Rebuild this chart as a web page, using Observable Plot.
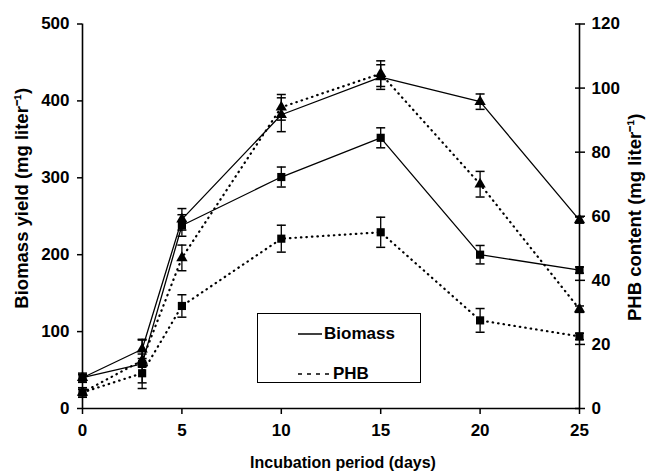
<!DOCTYPE html>
<html><head><meta charset="utf-8">
<script src="https://cdn.jsdelivr.net/npm/d3@7"></script>
<script src="https://cdn.jsdelivr.net/npm/@observablehq/plot@0.6"></script>
<style>
body{margin:0;background:#fff;}
#wrap{position:relative;width:647px;height:474px;font-family:'Liberation Sans',Arial,sans-serif;font-weight:bold;}
#legend{position:absolute;left:257px;top:313px;width:162px;height:68px;border:1.5px solid #000;box-sizing:content-box;}
#legend .row{position:absolute;left:40px;display:flex;align-items:center;font-size:17px;line-height:20px;color:#000;}
#legend svg{display:block;}
</style></head><body><div id="wrap"></div>
<script>
// Days of incubation
const days = [0, 3, 5, 10, 15, 20, 25];
// Biomass yield (mg/L, left axis)
const biomassTri = [40, 77, 246, 382, 431, 399, 245];
const biomassTriErr = [4, 12, 14, 22, 16, 10, 4];
const biomassSq = [40, 58, 238, 301, 352, 200, 180];
const biomassSqErr = [6, 32, 14, 13, 13, 12, 4];
// PHB content (mg/L, right axis)
const phbTri = [5, 15, 47, 94, 104.5, 70, 31];
const phbTriErr = [1, 2, 4, 4, 4, 4, 1];
const phbSq = [5, 11, 32, 53, 55, 27.5, 22.5];
const phbSqErr = [1.5, 3, 3.5, 4.2, 4.7, 3.7, 1];
// Axis ticks
const xTicks = [0, 5, 10, 15, 20, 25];
const leftTicks = [0, 100, 200, 300, 400, 500];
const rightTicks = [0, 20, 40, 60, 80, 100, 120];
const leftMax = 500, rightMax = 120;
const K = leftMax / rightMax;

function rows(vals, errs, scale) {
  return days.map((d, i) => ({day: d, y: vals[i] * scale, lo: (vals[i] - errs[i]) * scale, hi: (vals[i] + errs[i]) * scale}));
}
const bT = rows(biomassTri, biomassTriErr, 1);
const bS = rows(biomassSq, biomassSqErr, 1);
const pT = rows(phbTri, phbTriErr, K);
const pS = rows(phbSq, phbSqErr, K);
const all = [...bT, ...bS, ...pT, ...pS];

const cap = {draw(ctx, size) { const r = Math.sqrt(size / Math.PI); ctx.moveTo(-r, 0); ctx.lineTo(r, 0); }};
const FONT = "'Liberation Sans',Arial,sans-serif";
const dotted = {stroke: "black", strokeWidth: 2.2, strokeDasharray: "0.5,5", strokeLinecap: "round"};
const solid = {stroke: "black", strokeWidth: 1.3};

const chart = Plot.plot({
  width: 647, height: 474,
  marginLeft: 82, marginRight: 68, marginTop: 23.5, marginBottom: 66,
  style: {fontFamily: FONT, fontWeight: "bold", background: "white", color: "black"},
  x: {domain: [0, 25]},
  y: {domain: [0, leftMax]},
  marks: [
    Plot.line(pT, {x: "day", y: "y", ...dotted}),
    Plot.line(pS, {x: "day", y: "y", ...dotted}),
    Plot.line(bT, {x: "day", y: "y", ...solid}),
    Plot.line(bS, {x: "day", y: "y", ...solid}),
    Plot.ruleX(all, {x: "day", y1: "lo", y2: "hi", stroke: "black", strokeWidth: 1.3}),
    Plot.dot(all, {x: "day", y: "lo", symbol: cap, r: 4.5, stroke: "black", strokeWidth: 1.5, fill: "none"}),
    Plot.dot(all, {x: "day", y: "hi", symbol: cap, r: 4.5, stroke: "black", strokeWidth: 1.5, fill: "none"}),
    Plot.dot([...bT, ...pT], {x: "day", y: "y", symbol: "triangle", r: 4.2, fill: "black"}),
    Plot.dot([...bS, ...pS], {x: "day", y: "y", symbol: "square", r: 4.6, fill: "black"}),
    Plot.ruleX([0, 25], {stroke: "black", strokeWidth: 1.6}),
    Plot.ruleY([0], {stroke: "black", strokeWidth: 1.6}),
    Plot.axisX(xTicks, {tickSize: 6, tickPadding: 9, fontSize: 17, label: null, strokeWidth: 1.5}),
    Plot.axisY(leftTicks, {anchor: "left", tickSize: 5, tickPadding: 8, fontSize: 17, label: null, strokeWidth: 1.5}),
    Plot.axisY(rightTicks, {anchor: "right", y: d => d * K, tickFormat: d => String(d), tickSize: 10, dx: -5, tickPadding: 7, fontSize: 17, label: null, strokeWidth: 1.5}),
    Plot.text(["Biomass yield (mg liter\u207B\u00B9)"], {frameAnchor: "left", textAnchor: "middle", rotate: -90, dx: -60, dy: -18, fontSize: 18.5, fontWeight: "bold"}),
    Plot.text(["PHB content (mg liter\u207B\u00B9)"], {frameAnchor: "right", textAnchor: "middle", rotate: -90, dx: 56, dy: 1, fontSize: 18.5, fontWeight: "bold"}),
    Plot.text(["Incubation period (days)"], {frameAnchor: "bottom", dx: 12, dy: 59, fontSize: 16, fontWeight: "bold"})
  ]
});
const wrap = document.getElementById("wrap");
wrap.appendChild(chart);

// Legend
const legend = document.createElement("div");
legend.id = "legend";
legend.innerHTML = `
<div class="row" style="top:10px"><svg width="24" height="10"><line x1="0" y1="5" x2="24" y2="5" stroke="black" stroke-width="1.5"/></svg><span style="margin-left:2px">Biomass</span></div>
<div class="row" style="top:50px"><svg width="32" height="10"><line x1="0" y1="5" x2="32" y2="5" stroke="black" stroke-width="1.5" stroke-dasharray="4,5"/></svg><span style="margin-left:3px">PHB</span></div>`;
wrap.appendChild(legend);
</script></body></html>
